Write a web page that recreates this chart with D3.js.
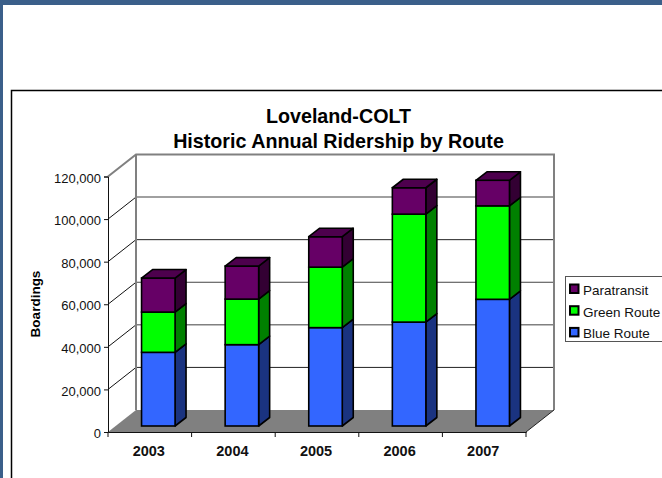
<!DOCTYPE html>
<html>
<head>
<meta charset="utf-8">
<script src="https://d3js.org/d3.v7.min.js"></script>
<style>
html, body { margin: 0; padding: 0; background: #fff; overflow: hidden; }
text { font-family: "Liberation Sans", Arial, sans-serif; }
</style>
</head>
<body>
<div id="chart"></div>
<script>
const years = ['2003', '2004', '2005', '2006', '2007'];
const blueRoute = [34600, 38200, 46200, 48800, 59500];
const greenRoute = [18900, 21400, 28400, 50700, 43900];
const paratransit = [16000, 15500, 14300, 12400, 12000];
const routeNames = ['Blue Route', 'Green Route', 'Paratransit'];
const yTicks = [0, 20000, 40000, 60000, 80000, 100000, 120000];

const width = 662;
const height = 478;

const rows = years.map((year, i) => ({
    year: year,
    'Blue Route': blueRoute[i],
    'Green Route': greenRoute[i],
    'Paratransit': paratransit[i]
}));

const colors = { 'Blue Route': '#3366ff', 'Green Route': '#00ff00', 'Paratransit': '#660066' };
const sideColors = { 'Blue Route': '#1a3380', 'Green Route': '#008000', 'Paratransit': '#330033' };
const topColors = { 'Blue Route': '#264db3', 'Green Route': '#00bf00', 'Paratransit': '#4d004d' };

const svg = d3.select('#chart')
    .append('svg')
    .attr('width', width)
    .attr('height', height);

// page frame
svg.append('rect').attr('width', width).attr('height', 5).attr('fill', '#3b5f8a');
svg.append('rect').attr('width', 3).attr('height', height).attr('fill', '#3b5f8a');
svg.append('path')
    .attr('d', 'M11.5,478V90.5H662')
    .attr('fill', 'none')
    .attr('stroke', '#000')
    .attr('stroke-width', 1.5);

// 3D offset of the back wall
const wallDx = 28;
const wallDy = -22;
// bars sit part way into the floor
const barDx = 8.5;
const barDy = -6;
const barDepthX = 11;
const barDepthY = -8.5;

const x = d3.scaleBand().domain(years).range([108, 526]);
const y = d3.scaleLinear().domain([0, 120000]).range([432, 176.5]);

// floor
const x0 = x.range()[0];
const x1 = x.range()[1];
svg.append('path')
    .attr('d', `M${x0},${y(0)}L${x1},${y(0)}L${x1 + wallDx},${y(0) + wallDy}L${x0 + wallDx},${y(0) + wallDy}Z`)
    .attr('fill', '#808080');

// gridlines, the resampled original makes some darker than others
const gridColors = { 20000: '#222', 40000: '#808080', 60000: '#444', 80000: '#222', 100000: '#808080' };
yTicks.slice(1, -1).forEach(t => {
    svg.append('line')
        .attr('x1', x0).attr('y1', y(t))
        .attr('x2', x0 + wallDx).attr('y2', y(t) + wallDy)
        .attr('stroke', '#111');
    svg.append('line')
        .attr('x1', x0 + wallDx).attr('y1', y(t) + wallDy)
        .attr('x2', x1 + wallDx).attr('y2', y(t) + wallDy)
        .attr('stroke', gridColors[t])
        .attr('stroke-width', gridColors[t] === '#808080' ? 1.5 : 1);
});

// back wall outline
svg.append('path')
    .attr('d', `M${x0},${y(120000)}L${x0 + wallDx},${y(120000) + wallDy}H${x1 + wallDx}V${y(0) + wallDy}`)
    .attr('fill', 'none')
    .attr('stroke', '#808080')
    .attr('stroke-width', 2);
svg.append('line')
    .attr('x1', x0 + wallDx).attr('y1', y(120000) + wallDy)
    .attr('x2', x0 + wallDx).attr('y2', y(0) + wallDy)
    .attr('stroke', '#808080')
    .attr('stroke-width', 2);

// floor front edge to the right wall
svg.append('line')
    .attr('x1', x1).attr('y1', y(0))
    .attr('x2', x1 + wallDx).attr('y2', y(0) + wallDy)
    .attr('stroke', '#222');

// stacked bars
const stack = d3.stack().keys(routeNames);
const barWidth = 33.5;

const series = svg.selectAll('.series')
    .data(stack(rows))
    .enter().append('g')
    .attr('class', 'series');

const barLeft = d => x(d.data.year) + (x.bandwidth() - barWidth) / 2 + barDx;
const barY = v => y(v) + barDy;

series.selectAll('.side')
    .data(s => s.map(d => Object.assign(d, { key: s.key })))
    .enter().append('path')
    .attr('class', 'side')
    .attr('d', d => {
        const r = barLeft(d) + barWidth;
        return `M${r},${barY(d[0])}L${r + barDepthX},${barY(d[0]) + barDepthY}V${barY(d[1]) + barDepthY}L${r},${barY(d[1])}Z`;
    })
    .attr('fill', d => sideColors[d.key])
    .attr('stroke', '#000')
    .attr('stroke-width', 1.6)
    .attr('stroke-linejoin', 'round');

series.selectAll('.front')
    .data(s => s)
    .enter().append('rect')
    .attr('class', 'front')
    .attr('x', barLeft)
    .attr('y', d => barY(d[1]))
    .attr('width', barWidth)
    .attr('height', d => barY(d[0]) - barY(d[1]))
    .attr('fill', d => colors[d.key])
    .attr('stroke', '#000')
    .attr('stroke-width', 1.6);

// bar lids
series.filter(s => s.key === 'Paratransit').selectAll('.lid')
    .data(s => s)
    .enter().append('path')
    .attr('class', 'lid')
    .attr('d', d => {
        const l = barLeft(d);
        const t = barY(d[1]);
        return `M${l},${t}L${l + barDepthX},${t + barDepthY}H${l + barWidth + barDepthX}L${l + barWidth},${t}Z`;
    })
    .attr('fill', topColors.Paratransit)
    .attr('stroke', '#000')
    .attr('stroke-width', 1.6)
    .attr('stroke-linejoin', 'round');

// axes
const yAxis = d3.axisLeft(y)
    .tickValues(yTicks)
    .tickSize(4)
    .tickFormat(d3.format(','));
const yAxisG = svg.append('g')
    .attr('transform', `translate(${x0},0)`)
    .call(yAxis);
yAxisG.selectAll('text')
    .attr('font-size', 13)
    .attr('font-family', '"Liberation Sans", Arial, sans-serif')
    .attr('fill', '#111')
    .attr('dy', '0.44em');
yAxisG.selectAll('line').attr('stroke', '#111');
yAxisG.select('.domain').attr('stroke', '#111');

const xAxis = d3.axisBottom(x).tickSize(0).tickPadding(14);
const xAxisG = svg.append('g')
    .attr('transform', `translate(0,${y(0)})`)
    .call(xAxis);
xAxisG.selectAll('text')
    .attr('font-size', 14.5)
    .attr('font-weight', 'bold')
    .attr('font-family', '"Liberation Sans", Arial, sans-serif')
    .attr('fill', '#111')
    .attr('dx', -1);
xAxisG.select('.domain').attr('stroke', '#111');
xAxisG.selectAll('.edge')
    .data(years.map(yr => x(yr)).concat([x1]))
    .enter().append('line')
    .attr('class', 'edge')
    .attr('x1', d => d).attr('x2', d => d)
    .attr('y1', 0).attr('y2', 5)
    .attr('stroke', '#111');

// titles
svg.append('text')
    .attr('x', 338.5).attr('y', 123)
    .attr('text-anchor', 'middle')
    .attr('font-size', 19.7)
    .attr('font-weight', 'bold')
    .text('Loveland-COLT');
svg.append('text')
    .attr('x', 338.5).attr('y', 148)
    .attr('text-anchor', 'middle')
    .attr('font-size', 19.7)
    .attr('font-weight', 'bold')
    .text('Historic Annual Ridership by Route');
svg.append('text')
    .attr('transform', 'translate(40,304) rotate(-90)')
    .attr('text-anchor', 'middle')
    .attr('font-size', 13.5)
    .attr('font-weight', 'bold')
    .text('Boardings');

// legend
const legendG = svg.append('g');
legendG.append('rect')
    .attr('x', 565.5).attr('y', 276.5)
    .attr('width', 110).attr('height', 65)
    .attr('fill', '#fff')
    .attr('stroke', '#555');
routeNames.slice().reverse().forEach((name, i) => {
    const ly = 289 + i * 21.7;
    legendG.append('rect')
        .attr('x', 570).attr('y', ly - 4.5)
        .attr('width', 8.5).attr('height', 8.5)
        .attr('fill', colors[name])
        .attr('stroke', '#000')
        .attr('stroke-width', 2);
    legendG.append('text')
        .attr('x', 583).attr('y', ly + 6)
        .attr('font-size', 13.5)
        .attr('fill', '#111')
        .text(name);
});
</script>
</body>
</html>
